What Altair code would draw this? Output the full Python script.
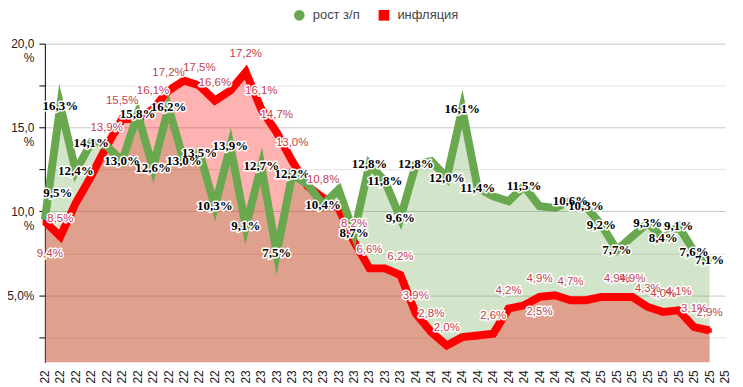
import altair as alt
import pandas as pd

# x positions: months Jan 2022 .. Aug 2025 (44 points), axis shows 45 slots
year_labels = ["22"] * 12 + ["23"] * 12 + ["24"] * 12 + ["25"] * 9

wage = [9.5, 16.3, 12.4, 14.1, 13.9, 13.0, 15.8, 12.6, 16.2, 13.0, 13.5, 10.3,
        13.9, 9.1, 12.7, 7.5, 12.2, 11.6, 10.4, 11.3, 8.7, 12.8, 11.8, 9.6,
        12.8, 13.0, 12.0, 16.1, 11.4, 10.9, 10.6, 11.5, 10.3, 10.2, 10.6, 10.3,
        9.2, 7.7, 8.5, 9.3, 8.4, 9.1, 7.6, 7.1]

infl = [9.4, 8.5, 10.5, 12.1, 13.9, 15.5, 15.5, 16.1, 17.2, 17.8, 17.5, 16.6,
        17.2, 18.3, 16.1, 14.7, 13.0, 11.5, 10.8, 10.2, 8.2, 6.6, 6.6, 6.2,
        3.9, 2.8, 2.0, 2.5, 2.6, 2.7, 4.2, 4.4, 4.9, 5.0, 4.7, 4.7,
        4.9, 4.9, 4.9, 4.3, 4.0, 4.1, 3.1, 2.9]

wage_label_idx = [1, 2, 3, 5, 6, 7, 8, 9, 10, 11, 12, 13, 14, 15, 16, 18, 20,
                  21, 22, 23, 24, 26, 27, 28, 31, 34, 35, 36, 37, 39, 40, 41, 42, 43]
wage_label_txt = ["16,3%", "12,4%", "14,1%", "13,0%", "15,8%", "12,6%", "16,2%",
                  "13,0%", "13,5%", "10,3%", "13,9%", "9,1%", "12,7%", "7,5%", "12,2%",
                  "10,4%", "8,7%", "12,8%", "11,8%", "9,6%", "12,8%", "12,0%", "16,1%",
                  "11,4%", "11,5%", "10,6%", "10,3%", "9,2%", "7,7%", "9,3%", "8,4%",
                  "9,1%", "7,6%", "7,1%"]
wage_edge_idx = [0]
wage_edge_txt = ["9,5%"]

infl_label_idx = [1, 4, 5, 7, 8, 10, 11, 13, 14, 15, 16, 18, 20, 21, 23, 24, 25, 26,
                  29, 30, 32, 34, 37, 38, 39, 40, 41, 42, 43]
infl_label_txt = ["8,5%", "13,9%", "15,5%", "16,1%", "17,2%", "17,5%", "16,6%", "17,2%",
                  "16,1%", "14,7%", "13,0%", "10,8%", "8,2%", "6,6%", "6,2%", "3,9%",
                  "2,8%", "2,0%", "2,6%", "4,2%", "4,9%", "4,7%", "4,9%", "4,9%",
                  "4,3%", "4,0%", "4,1%", "3,1%", "2,9%"]
infl_below_idx = [32]
infl_below_txt = ["2,5%"]
infl_edge_idx = [0]
infl_edge_txt = ["9,4%"]

series_names = ["рост з/п", "инфляция"]
series_colors = ["#6aa84f", "#ff0000"]

W, H = 683, 320

idx = list(range(len(wage)))
df = pd.DataFrame({"idx": idx, "wage": wage, "infl": infl})
long_df = pd.DataFrame({
    "idx": idx + idx,
    "value": wage + infl,
    "series": [series_names[0]] * len(wage) + [series_names[1]] * len(infl),
})
xlab_df = pd.DataFrame({"idx": list(range(len(year_labels))), "txt": year_labels})


def lbl_df(ids, txts, vals):
    return pd.DataFrame({"idx": ids, "txt": txts, "value": [vals[i] for i in ids]})


wl = lbl_df(wage_label_idx, wage_label_txt, wage)
wle = lbl_df(wage_edge_idx, wage_edge_txt, wage)
il = lbl_df(infl_label_idx, infl_label_txt, infl)
ilb = lbl_df(infl_below_idx, infl_below_txt, infl)
ile = lbl_df(infl_edge_idx, infl_edge_txt, infl)

n_slots = len(year_labels)
y_label_expr = ("datum.value % 5 == 0 ? (datum.value == 5 ? '5,0%' : "
                "[replace(format(datum.value, '.1f'), '.', ','), '%']) : ''")

x_scale = alt.Scale(domain=[0, n_slots - 1], nice=False, zero=False)
x_enc = alt.X("idx:Q", scale=x_scale,
              axis=alt.Axis(labels=False, domain=False, ticks=False, grid=False,
                            title=None))

y_scale = alt.Scale(domain=[1, 20], nice=False, zero=False)
y_axis = alt.Axis(values=[2.5 * k for k in range(1, 9)], labelExpr=y_label_expr,
                  domainColor="#000", tickColor="#000", tickSize=6, labelPadding=5,
                  labelFontSize=12, labelColor="#222", labelFont="Liberation Sans",
                  gridColor={"condition": {"test": "datum.value % 5 === 0", "value": "#c8c8c8"},
                             "value": "#e2e2e2"},
                  title=None)

base = alt.Chart(df)

wage_area = base.mark_area(color=series_colors[0], opacity=0.3, clip=True).encode(
    x=x_enc, y=alt.Y("wage:Q", scale=y_scale, axis=y_axis))
infl_area = base.mark_area(color=series_colors[1], opacity=0.3, clip=True).encode(
    x="idx:Q", y=alt.Y("infl:Q", scale=y_scale))
infl_line = base.mark_line(color=series_colors[1], strokeWidth=8, strokeJoin="miter",
                           strokeMiterLimit=10, strokeCap="butt").encode(
    x="idx:Q", y=alt.Y("infl:Q", scale=y_scale))
wage_line = base.mark_line(color=series_colors[0], strokeWidth=8, strokeJoin="miter",
                           strokeMiterLimit=10, strokeCap="butt").encode(
    x="idx:Q", y=alt.Y("wage:Q", scale=y_scale))

# small points hidden under the thick lines; they carry the legend
legend_layer = alt.Chart(long_df).mark_point(filled=True, size=20, opacity=1).encode(
    x="idx:Q", y=alt.Y("value:Q", scale=y_scale),
    color=alt.Color("series:N", scale=alt.Scale(domain=series_names, range=series_colors),
                    legend=alt.Legend(orient="none", legendX=249, legendY=-35,
                                      direction="horizontal", title=None,
                                      symbolOpacity=1, symbolSize=115,
                                      labelFontSize=13, labelColor="#444",
                                      labelFont="Liberation Sans", labelOffset=7,
                                      columnPadding=15, padding=0)),
    shape=alt.Shape("series:N", scale=alt.Scale(domain=series_names,
                                                 range=["circle", "square"])))

# category (year) labels under the plot, one per month slot
x_labels = alt.Chart(xlab_df).mark_text(angle=270, align="right", baseline="middle",
                                        fontSize=12, font="Liberation Sans",
                                        color="#222").encode(
    x="idx:Q", y=alt.value(H + 8), text="txt:N")


def labels(data, font, weight, size, color, dy, dx=0):
    halo = alt.Chart(data).mark_text(font=font, fontWeight=weight, fontSize=size,
                                     fill="white", stroke="white", strokeWidth=3,
                                     strokeJoin="round", dy=dy, dx=dx,
                                     baseline="middle").encode(
        x="idx:Q", y=alt.Y("value:Q", scale=y_scale), text="txt:N")
    txt = alt.Chart(data).mark_text(font=font, fontWeight=weight, fontSize=size,
                                    fill=color, dy=dy, dx=dx, baseline="middle").encode(
        x="idx:Q", y=alt.Y("value:Q", scale=y_scale), text="txt:N")
    return [halo, txt]


red_lbl = "#c4424e"
layers = [wage_area, infl_area, legend_layer, infl_line, wage_line, x_labels]
layers += labels(wl, "Liberation Serif", "bold", 13, "#000", 0)
layers += labels(wle, "Liberation Serif", "bold", 13, "#000", -27, 13)
layers += labels(il, "Liberation Sans", "normal", 11.5, red_lbl, -18)
layers += labels(ilb, "Liberation Sans", "normal", 11.5, red_lbl, 15)
layers += labels(ile, "Liberation Sans", "normal", 11.5, red_lbl, 33, 5)

chart = alt.layer(*layers).properties(
    width=W, height=H,
    autosize=alt.AutoSizeParams(type="none"),
    padding={"left": 37, "top": 35, "right": 10, "bottom": 22},
    background="white",
).configure_view(stroke=None)

chart.save("out.html", embed_options={"renderer": "svg", "actions": False})
